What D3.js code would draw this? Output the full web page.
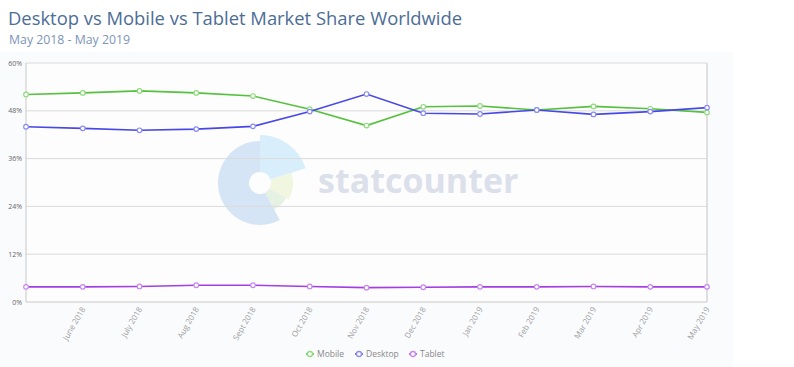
<!DOCTYPE html>
<html lang="en">
<head>
<meta charset="UTF-8">
<title>Desktop vs Mobile vs Tablet Market Share Worldwide</title>
<style>
    body { margin: 0; background: #fff; font-family: "Open Sans", sans-serif; }
</style>
</head>
<body>
<div id="chart"></div>
<script src="https://d3js.org/d3.v7.min.js"></script>
<script>
    // data
    var months = ["May 2018", "June 2018", "July 2018", "Aug 2018", "Sept 2018", "Oct 2018", "Nov 2018",
        "Dec 2018", "Jan 2019", "Feb 2019", "Mar 2019", "Apr 2019", "May 2019"];
    var mobile = [52.1, 52.5, 53.0, 52.5, 51.7, 48.4, 44.3, 49.0, 49.2, 48.2, 49.1, 48.5, 47.6];
    var desktop = [44.0, 43.6, 43.1, 43.4, 44.1, 47.8, 52.2, 47.4, 47.2, 48.2, 47.1, 47.8, 48.8];
    var tablet = [3.8, 3.8, 3.9, 4.2, 4.2, 3.9, 3.6, 3.7, 3.8, 3.8, 3.9, 3.8, 3.8];
    var yTicks = [0, 12, 24, 36, 48, 60];
    var seriesNames = ["Mobile", "Desktop", "Tablet"];

    var series = [
        { name: "Mobile", values: mobile, color: "#55c13d", light: "#8fdb7c" },
        { name: "Desktop", values: desktop, color: "#4848e6", light: "#8b8bf2" },
        { name: "Tablet", values: tablet, color: "#a33fe0", light: "#c786f0" }
    ];

    var W = 794, H = 367;
    var margin = { top: 63, right: 87, bottom: 65, left: 26 },
        width = W - margin.left - margin.right,
        height = H - margin.top - margin.bottom;

    var svg = d3.select("#chart").append("svg")
        .attr("width", W)
        .attr("height", H)
        .style("font-family", "'Open Sans', sans-serif");

    // pale panel behind the chart
    svg.append("rect")
        .attr("x", 0).attr("y", 52)
        .attr("width", 733).attr("height", H - 52)
        .attr("fill", "#fafbfd");

    // titles
    svg.append("text")
        .attr("x", 8).attr("y", 25)
        .style("font-size", "18.4px")
        .attr("fill", "#4c6d96")
        .text("Desktop vs Mobile vs Tablet Market Share Worldwide");
    svg.append("text")
        .attr("x", 9).attr("y", 44)
        .style("font-size", "12.3px")
        .attr("fill", "#7d95b8")
        .text("May 2018 - May 2019");

    var g = svg.append("g")
        .attr("transform", "translate(" + margin.left + "," + margin.top + ")");

    g.append("rect")
        .attr("width", width).attr("height", height)
        .attr("fill", "#fdfdfe");

    var x = d3.scalePoint()
        .domain(months)
        .range([0, width]);

    var y = d3.scaleLinear()
        .domain([0, 60])
        .range([height, 0]);

    // watermark
    var wm = g.append("g").attr("transform", "translate(" + (260 - margin.left) + "," + (183 - margin.top) + ")");
    var arc = d3.arc();
    var deg = Math.PI / 180;
    var wedges = [
        { a0: 0, a1: 72, r: 48, c: "#d8effb" },
        { a0: 72, a1: 120, r: 33, c: "#f1f6e1" },
        { a0: 120, a1: 152, r: 30, c: "#e4f1e3" },
        { a0: 152, a1: 360, r: 42, c: "#d5e5f5" }
    ];
    wedges.forEach(function (w) {
        wm.append("path")
            .attr("d", arc({ innerRadius: 11, outerRadius: w.r, startAngle: w.a0 * deg, endAngle: w.a1 * deg }))
            .attr("fill", w.c);
    });
    g.append("text")
        .attr("x", 318 - margin.left).attr("y", 193 - margin.top)
        .style("font-size", "34px")
        .style("font-weight", "bold")
        .attr("fill", "#dbe0ea")
        .text("statcounter");

    // grid lines
    g.append("g")
        .selectAll("line")
        .data(yTicks)
        .enter().append("line")
        .attr("x1", 0).attr("x2", width)
        .attr("y1", function (d) { return y(d); })
        .attr("y2", function (d) { return y(d); })
        .attr("stroke", function (d) { return d == 0 ? "#c8c8c8" : "#dadada"; })
        .attr("stroke-width", 1);

    // frame
    g.append("line").attr("x1", 0).attr("x2", 0).attr("y1", 0).attr("y2", height)
        .attr("stroke", "#c8c8c8");
    g.append("line").attr("x1", width).attr("x2", width).attr("y1", 0).attr("y2", height)
        .attr("stroke", "#d6d6d6").attr("stroke-width", 1.5);

    // y labels
    g.append("g")
        .selectAll("text")
        .data(yTicks)
        .enter().append("text")
        .attr("x", -4)
        .attr("y", function (d) { return y(d) + 2.5; })
        .attr("text-anchor", "end")
        .style("font-size", "7px")
        .attr("fill", "#666")
        .text(function (d) { return d + "%"; });

    // x labels (none under the first point)
    g.append("g")
        .selectAll("text")
        .data(months.slice(1))
        .enter().append("text")
        .attr("transform", function (d) { return "translate(" + (x(d) + 3) + "," + (height + 7) + ") rotate(-60)"; })
        .attr("text-anchor", "end")
        .style("font-size", "8px")
        .attr("fill", "#a0a0a0")
        .text(function (d) { return d; });

    // lines
    var line = d3.line()
        .x(function (d, i) { return x(months[i]); })
        .y(function (d) { return y(d); });

    series.forEach(function (s) {
        g.append("path")
            .datum(s.values)
            .attr("fill", "none")
            .attr("stroke", s.color)
            .attr("stroke-width", 1.6)
            .attr("d", line);
        g.append("g")
            .selectAll("circle")
            .data(s.values)
            .enter().append("circle")
            .attr("cx", function (d, i) { return x(months[i]); })
            .attr("cy", function (d) { return y(d); })
            .attr("r", 2.3)
            .attr("fill", "#fff")
            .attr("stroke", s.light)
            .attr("stroke-width", 1.2);
    });

    // legend
    var legendX = [310, 359, 413];
    var legend = svg.append("g");
    series.forEach(function (s, i) {
        var lg = legend.append("g").attr("transform", "translate(" + legendX[i] + ",354)");
        lg.append("line").attr("x1", -4).attr("x2", 4).attr("stroke", s.color).attr("stroke-width", 1.5);
        lg.append("circle").attr("r", 2.5).attr("fill", "#fff").attr("stroke", s.light).attr("stroke-width", 1.3);
        lg.append("text")
            .attr("x", 7).attr("y", 3)
            .style("font-size", "8.5px")
            .attr("fill", "#888")
            .text(seriesNames[i]);
    });
</script>
</body>
</html>
